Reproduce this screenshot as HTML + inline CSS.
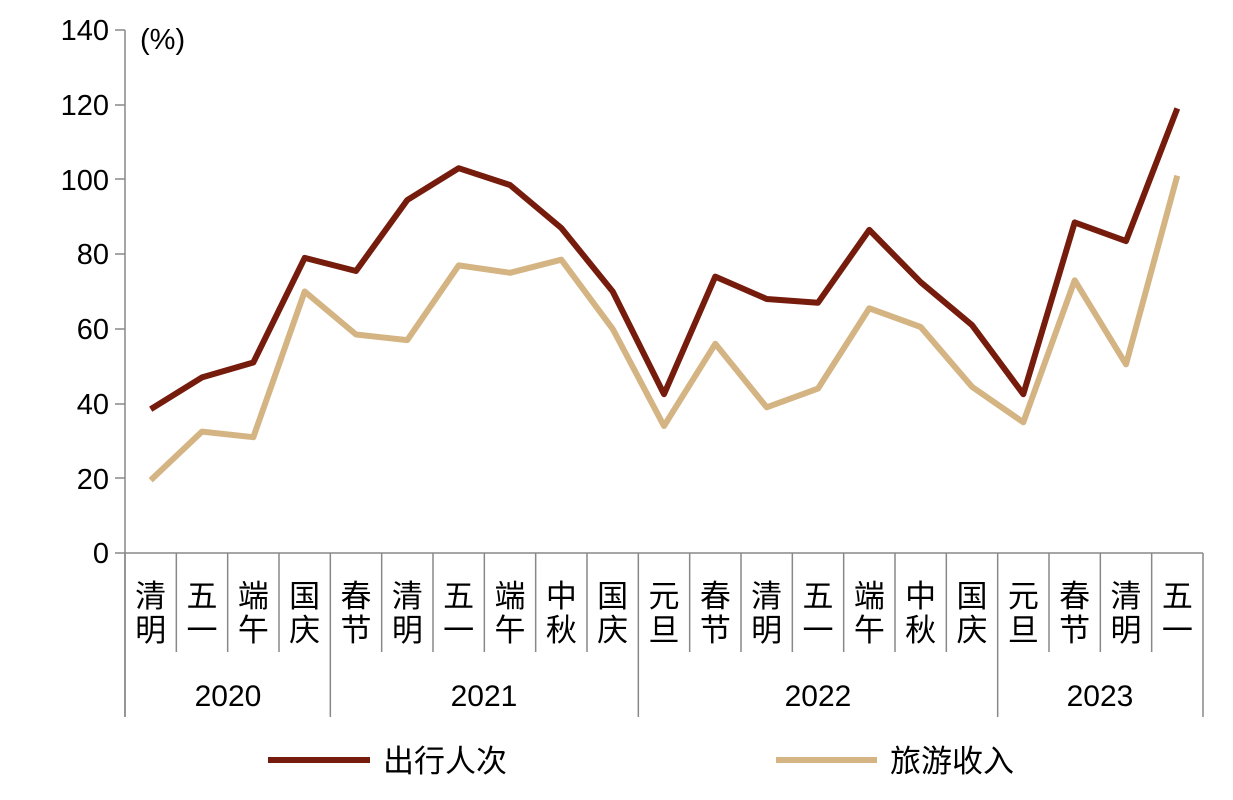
<!DOCTYPE html>
<html><head><meta charset="utf-8"><style>html,body{margin:0;padding:0;background:#fff}svg{display:block}text{font-family:"Liberation Sans","Noto Sans CJK SC",sans-serif;fill:#000}</style></head><body>
<svg width="1233" height="800" viewBox="0 0 1233 800" xmlns="http://www.w3.org/2000/svg">
<g font-size="29" text-anchor="end">
<text x="109" y="40">140</text><text x="109" y="115">120</text><text x="109" y="190">100</text><text x="109" y="264">80</text><text x="109" y="339">60</text><text x="109" y="414">40</text><text x="109" y="489">20</text><text x="109" y="563">0</text>
</g>
<text x="140" y="49" font-size="29">(%)</text>
<g stroke="#888" stroke-width="1.5" fill="none">
<line x1="125" y1="30" x2="125" y2="717"/>
<line x1="115" y1="30" x2="125" y2="30"/><line x1="115" y1="105" x2="125" y2="105"/><line x1="115" y1="179" x2="125" y2="179"/><line x1="115" y1="254" x2="125" y2="254"/><line x1="115" y1="329" x2="125" y2="329"/><line x1="115" y1="404" x2="125" y2="404"/><line x1="115" y1="478" x2="125" y2="478"/><line x1="115" y1="553" x2="125" y2="553"/>
<line x1="125" y1="553" x2="1203" y2="553"/>
</g>
<g id="ticks" stroke="#888" stroke-width="1.5"></g>
<g id="cats" font-size="31" text-anchor="middle"></g>
<g font-size="30" text-anchor="middle">
<text x="228" y="706">2020</text><text x="484" y="706">2021</text><text x="818" y="706">2022</text><text x="1100" y="706">2023</text>
</g>
<polyline id="l2" fill="none" stroke="#d4b483" stroke-width="6" stroke-linejoin="round"/>
<polyline id="l1" fill="none" stroke="#751c0d" stroke-width="6" stroke-linejoin="round"/>
<line x1="268" y1="760" x2="370" y2="760" stroke="#751c0d" stroke-width="6"/>
<text x="383" y="772" font-size="31">出行人次</text>
<line x1="776" y1="760" x2="877" y2="760" stroke="#d4b483" stroke-width="6"/>
<text x="890" y="772" font-size="31">旅游收入</text>
</svg>
<script>
var ns="http://www.w3.org/2000/svg",w=(1203-125)/21;
var cats=["清明","五一","端午","国庆","春节","清明","五一","端午","中秋","国庆","元旦","春节","清明","五一","端午","中秋","国庆","元旦","春节","清明","五一"];
var d1=[38.5,47,51,79,75.5,94.5,103,98.5,87,70,42.5,74,68,67,86.5,72.5,61,42.5,88.5,83.5,119];
var d2=[19.5,32.5,31,70,58.5,57,77,75,78.5,60,34,56,39,44,65.5,60.5,44.5,35,73,50.5,101];
var big=[0,4,10,17,21],tk=document.getElementById("ticks"),cg=document.getElementById("cats");
for(var i=0;i<=21;i++){var x=125+w*i,l=document.createElementNS(ns,"line");l.setAttribute("x1",x);l.setAttribute("x2",x);l.setAttribute("y1",553);l.setAttribute("y2",big.indexOf(i)>=0?717:652);tk.appendChild(l);}
cats.forEach(function(c,i){var x=125+w*(i+.5);for(var k=0;k<2;k++){var t=document.createElementNS(ns,"text");t.setAttribute("x",x);t.setAttribute("y",607+k*34);t.textContent=c[k];cg.appendChild(t);}});
function pts(d){return d.map(function(v,i){return (125+w*(i+.5)).toFixed(1)+","+(553-v*523/140).toFixed(1)}).join(" ")}
document.getElementById("l1").setAttribute("points",pts(d1));
document.getElementById("l2").setAttribute("points",pts(d2));
</script>
</body></html>
